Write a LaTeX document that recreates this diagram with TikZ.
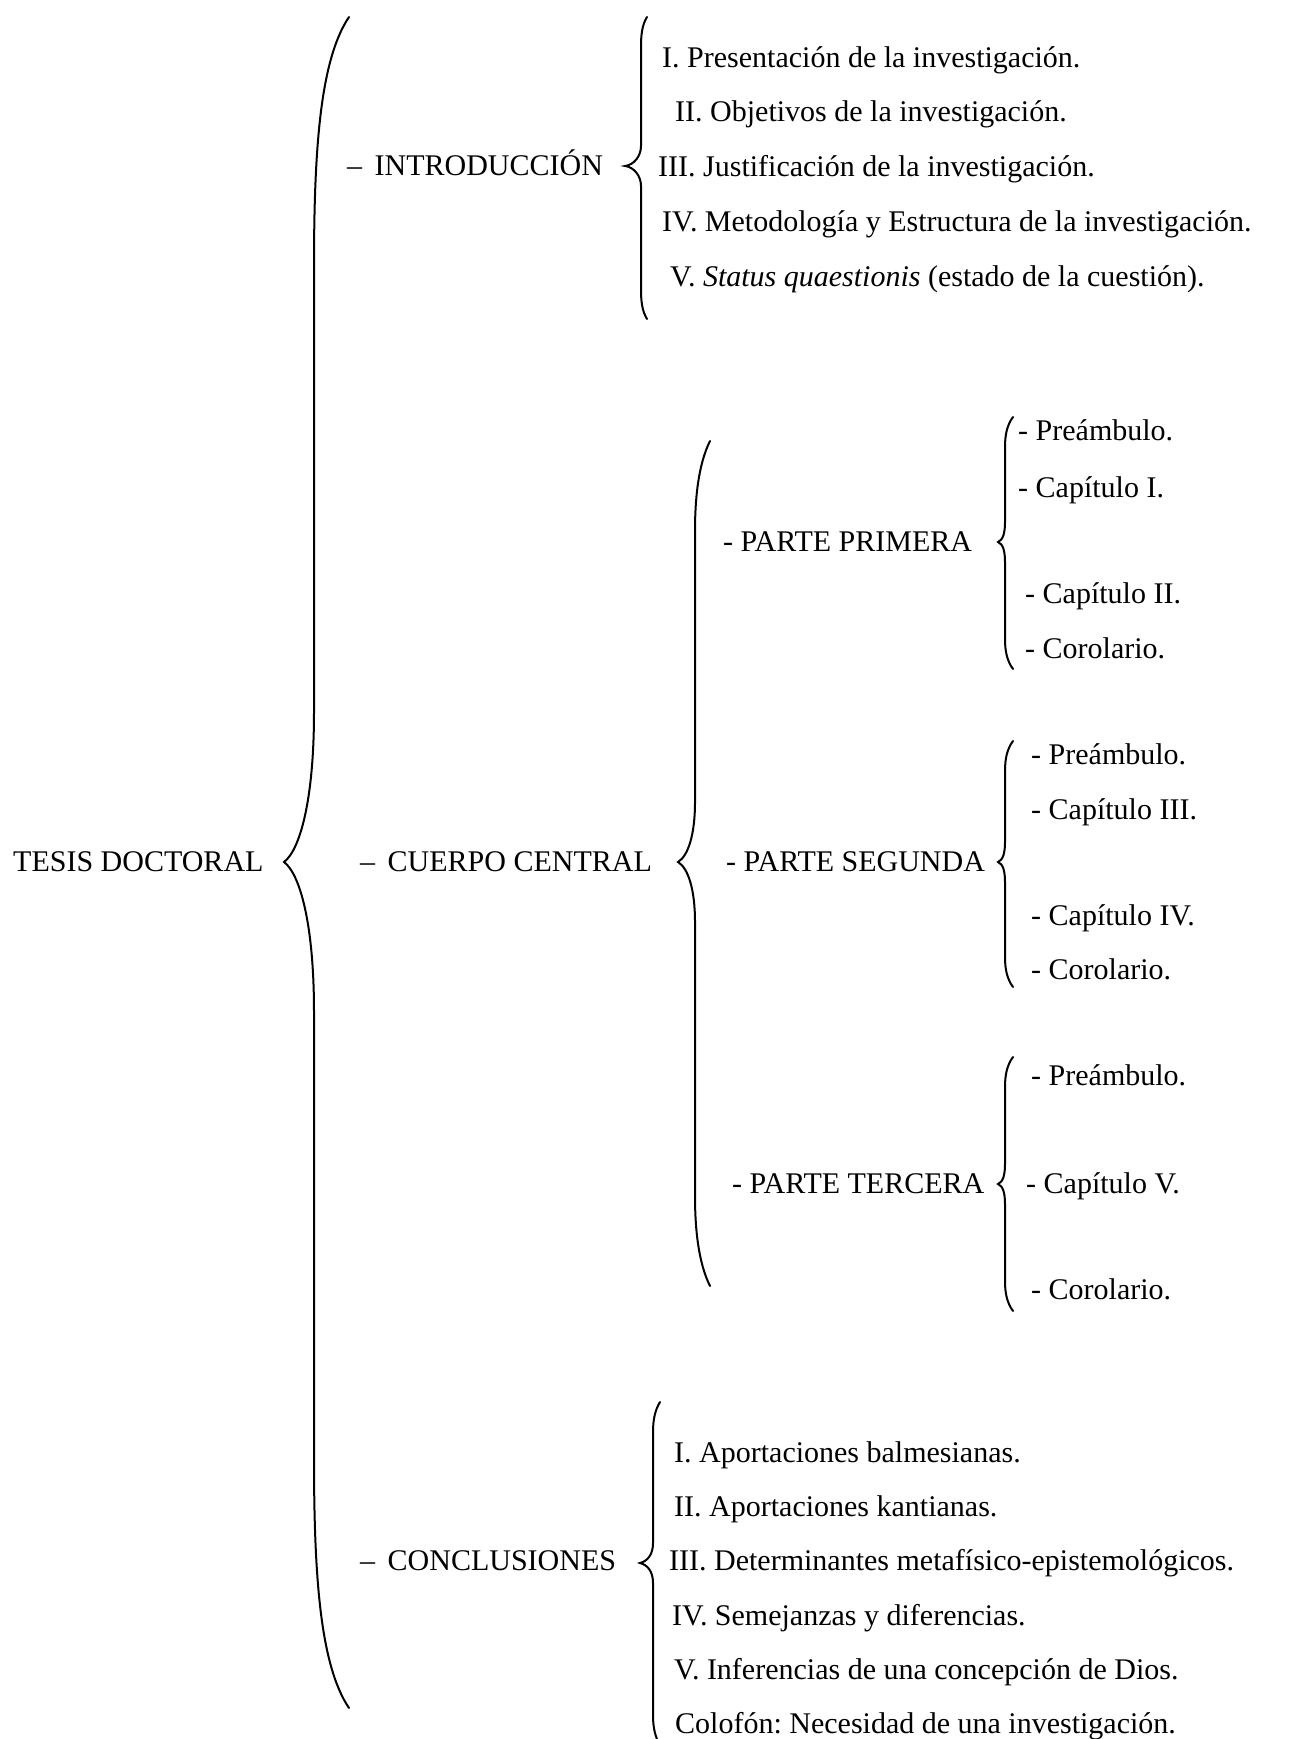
\documentclass[tikz,border=0pt]{standalone}
\usepackage{fontspec}
\setmainfont{Liberation Serif}
\usepackage{tikz}
\frenchspacing

\begin{document}
\begin{tikzpicture}[x=1pt, y=-1pt,
        txt/.style={anchor=mid west, inner sep=0pt, yshift=-7pt, font=\fontsize{30}{36}\selectfont},
        llave/.style={line width=2pt, line cap=round}]
        \useasboundingbox (0,0) rectangle (1291,1739);
        \node [txt] (tesis)   at (13,862)   {TESIS DOCTORAL};                 %
        \draw [llave] (349,17) .. controls (320,60) and (314,150) .. (314,267)
              -- (314,712) .. controls (314,800) and (300,850) .. (284,862)
              .. controls (300,874) and (314,924) .. (314,1012)
              -- (314,1458) .. controls (314,1575) and (320,1665) .. (349,1708); %grande
        % INTRODUCCION
        \node [txt] (intro)   at (347,166)  {–\, INTRODUCCIÓN};              %
        \draw [llave] (647,17) .. controls (642,25) and (641,35) .. (641,47)
              -- (641,146) .. controls (641,156) and (634,165) .. (625,166)
              .. controls (634,167) and (641,176) .. (641,186)
              -- (641,289) .. controls (641,301) and (642,311) .. (647,319); %
        \node [txt] (introI)  at (662,58)   {I. Presentación de la investigación.};
        \node [txt] (introII) at (675,112)  {II. Objetivos de la investigación.};
        \node [txt] (introIII) at (658,167) {III. Justificación de la investigación.};
        \node [txt] (introIV) at (662,222)  {IV. Metodología y Estructura de la investigación.};
        \node [txt] (introV)  at (670,277)  {V. \textit{Status quaestionis} (estado de la cuestión).};
        % CUERPO CENTRAL
        \node [txt] (cuerpo)  at (360,862)  {–\, CUERPO CENTRAL};            %
        \draw [llave] (710,441) .. controls (698,465) and (695,500) .. (695,531)
              -- (695,802) .. controls (695,835) and (688,856) .. (678,862)
              .. controls (688,868) and (695,889) .. (695,922)
              -- (695,1196) .. controls (695,1227) and (698,1262) .. (710,1286); %
        \node [txt] (primera) at (723,542)  {- PARTE PRIMERA};               %
        \draw [llave] (1013,417) .. controls (1007,425) and (1005,435) .. (1005,447)
              -- (1005,522) .. controls (1005,533) and (1003,540) .. (998,542)
              .. controls (1003,544) and (1005,551) .. (1005,562)
              -- (1005,639) .. controls (1005,651) and (1007,661) .. (1013,669); %
        \node [txt] (pI)      at (1018,431) {- Preámbulo.};
        \node [txt] (pII)     at (1018,488) {- Capítulo I.};
        \node [txt] (pIII)    at (1025,594) {- Capítulo II.};
        \node [txt] (pIV)     at (1025,649) {- Corolario.};
        \node [txt] (segunda) at (726,862)  {- PARTE SEGUNDA};               %
        \draw [llave] (1013,741) .. controls (1007,749) and (1005,759) .. (1005,771)
              -- (1005,842) .. controls (1005,853) and (1003,860) .. (998,862)
              .. controls (1003,864) and (1005,871) .. (1005,882)
              -- (1005,957) .. controls (1005,969) and (1007,979) .. (1013,987); %
        \node [txt] (sI)      at (1031,755) {- Preámbulo.};
        \node [txt] (sII)     at (1031,810) {- Capítulo III.};
        \node [txt] (sIII)    at (1031,916) {- Capítulo IV.};
        \node [txt] (sIV)     at (1031,970) {- Corolario.};
        \node [txt] (tercera) at (732,1184) {- PARTE TERCERA};               %
        \draw [llave] (1013,1057) .. controls (1007,1065) and (1005,1075) .. (1005,1087)
              -- (1005,1164) .. controls (1005,1175) and (1003,1182) .. (998,1184)
              .. controls (1003,1186) and (1005,1193) .. (1005,1204)
              -- (1005,1281) .. controls (1005,1293) and (1007,1303) .. (1013,1311); %
        \node [txt] (tI)      at (1031,1076) {- Preámbulo.};
        \node [txt] (tII)     at (1026,1184) {- Capítulo V.};
        \node [txt] (tIII)    at (1031,1290) {- Corolario.};
        % CONCLUSIONES
        \node [txt] (concl)   at (360,1561) {–\, CONCLUSIONES};              %
        \draw [llave] (660,1402) .. controls (655,1410) and (653,1420) .. (653,1432)
              -- (653,1543) .. controls (653,1554) and (648,1561) .. (640,1563)
              .. controls (648,1565) and (653,1572) .. (653,1583)
              -- (653,1715) .. controls (653,1727) and (655,1737) .. (660,1745); %
        \node [txt] (cI)      at (674,1453) {I. Aportaciones balmesianas.};
        \node [txt] (cII)     at (674,1507) {II. Aportaciones kantianas.};
        \node [txt] (cIII)    at (669,1561) {III. Determinantes metafísico-epistemológicos.};
        \node [txt] (cIV)     at (672,1616) {IV. Semejanzas y diferencias.};
        \node [txt] (cV)      at (674,1670) {V. Inferencias de una concepción de Dios.};
        \node [txt] (cVI)     at (675,1724) {Colofón: Necesidad de una investigación.};
\end{tikzpicture}
\end{document}
